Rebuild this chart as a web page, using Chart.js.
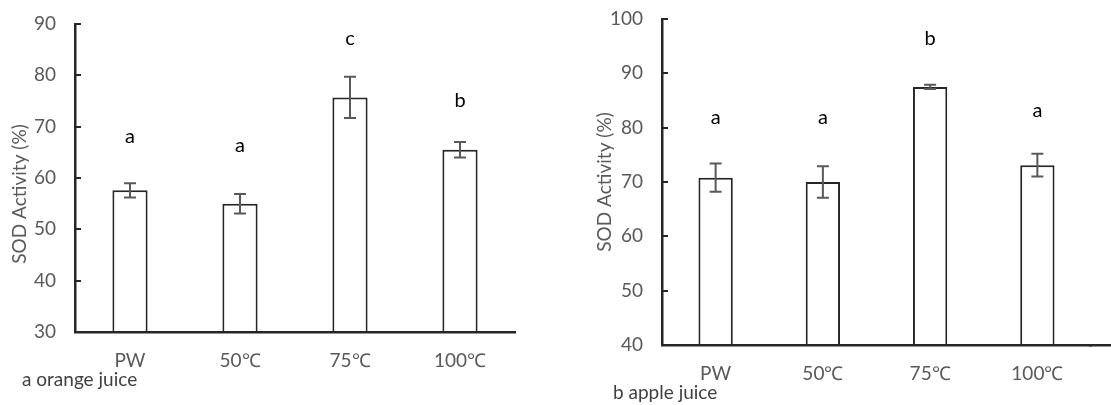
<!DOCTYPE html>
<html>
<head>
<meta charset="utf-8">
<script src="https://cdn.jsdelivr.net/npm/chart.js@4.4.1/dist/chart.umd.min.js"></script>
<style>
  html, body { margin: 0; padding: 0; background: #fff; }
  #wrap { position: relative; width: 1111px; height: 405px; overflow: hidden; }
  .box { position: absolute; top: 0; height: 405px; }
  #boxA { left: 0; width: 560px; }
  #boxB { left: 560px; width: 551px; }
</style>
</head>
<body>
<div id="wrap">
  <div class="box" id="boxA"><canvas id="chartA"></canvas></div>
  <div class="box" id="boxB"><canvas id="chartB"></canvas></div>
</div>
<script>
// SOD活性: 橙汁(a) と 苹果汁(b) の2枚の棒グラフ + 誤差棒 + 有意差の文字
var categories = ["PW", "50\u2103", "75\u2103", "100\u2103"];

var orangeMean   = [57.6, 55.0, 75.7, 65.5];
var orangeErr    = [1.4, 1.9, 4.0, 1.5];
var orangeLetter = ["a", "a", "c", "b"];
var orangeLetterY = [68.0, 66.3, 87.2, 75.0];

var appleMean   = [70.8, 70.0, 87.5, 73.1];
var appleErr    = [2.6, 2.9, 0.4, 2.1];
var appleLetter = ["a", "a", "b", "a"];
var appleLetterY = [81.9, 81.9, 96.4, 83.1];

(function () {
    "use strict";

    var INK = "#262626";
    var GREY = "#595959";
    var FONT = "Lato, 'Open Sans', sans-serif";
    Chart.defaults.font.family = FONT;

    // 誤差棒・文字・キャプション・縦軸タイトルを描くプラグイン
    var extras = {
        id: "extras",
        afterDatasetsDraw: function (chart) {
            var o = chart.options.plugins.extras;
            var ctx = chart.ctx;
            var y = chart.scales.y;
            var bars = chart.getDatasetMeta(0).data;
            ctx.save();
            // 誤差棒
            ctx.strokeStyle = GREY;
            ctx.lineWidth = 2;
            bars.forEach(function (b, i) {
                var m = o.mean[i], e = o.err[i];
                var y1 = y.getPixelForValue(m + e), y2 = y.getPixelForValue(m - e);
                ctx.beginPath();
                ctx.moveTo(b.x, y1); ctx.lineTo(b.x, y2);
                ctx.moveTo(b.x - 6, y1); ctx.lineTo(b.x + 6, y1);
                ctx.moveTo(b.x - 6, y2); ctx.lineTo(b.x + 6, y2);
                ctx.stroke();
            });
            // 有意差の文字
            ctx.fillStyle = "#000";
            ctx.font = "20px " + FONT;
            ctx.textAlign = "center";
            ctx.textBaseline = "middle";
            bars.forEach(function (b, i) {
                ctx.fillText(o.letters[i], b.x, y.getPixelForValue(o.letterY[i]));
            });
            ctx.restore();
        },
        afterDraw: function (chart) {
            var o = chart.options.plugins.extras;
            var ctx = chart.ctx;
            var x = chart.scales.x;
            ctx.save();
            // 横軸を右端まで延長 (b のみ)。Chart.js の枠線と同じ位置合わせ
            if (o.extendAxis) {
                var by = Math.round(x.top - 1.25) + 1.25;
                ctx.strokeStyle = INK;
                ctx.lineWidth = 2.5;
                ctx.beginPath();
                ctx.moveTo(chart.chartArea.right - 2, by);
                ctx.lineTo(chart.width, by);
                ctx.stroke();
            }
            // 縦軸タイトル
            ctx.fillStyle = GREY;
            ctx.font = "19px " + FONT;
            ctx.textAlign = "center";
            ctx.textBaseline = "middle";
            ctx.translate(o.titleX, o.titleY);
            ctx.rotate(-Math.PI / 2);
            ctx.fillText("SOD Activity (%)", 0, 0);
            ctx.setTransform(1, 0, 0, 1, 0, 0);
            // キャプション
            ctx.fillStyle = "#404040";
            ctx.textAlign = "left";
            ctx.fillText(o.caption, o.capX, o.capY);
            ctx.restore();
        },
    };

    function make(id, mean, err, letters, letterY, yMin, yMax, lay) {
        return new Chart(document.getElementById(id), {
            type: "bar",
            data: {
                labels: categories,
                datasets: [{
                    data: mean,
                    backgroundColor: "#fff",
                    borderColor: INK,
                    borderWidth: 2,
                    categoryPercentage: 1,
                    barPercentage: 0.32,
                    base: yMin,
                }],
            },
            options: {
                responsive: true,
                maintainAspectRatio: false,
                animation: false,
                events: [],
                layout: { padding: { left: 0, right: lay.padR, top: lay.padT, bottom: 0 } },
                scales: {
                    x: {
                        grid: { display: false, drawTicks: false },
                        border: { display: true, color: INK, width: 2.5 },
                        ticks: { color: GREY, font: { size: 19 }, padding: 17, maxRotation: 0 },
                        afterFit: function (s) {
                            s.height = lay.xH;
                            s.paddingLeft = 0; s.paddingRight = 0;
                        },
                    },
                    y: {
                        min: yMin, max: yMax,
                        grid: { display: true, drawOnChartArea: false, drawTicks: true,
                                tickLength: -6, color: INK, lineWidth: 2 },
                        border: { display: true, color: INK, width: 2.5 },
                        ticks: { stepSize: 10, color: GREY, font: { size: 19 }, padding: 25 },
                        // ticks.padding が上下余白に効かないよう固定
                        afterFit: function (s) {
                            s.width = lay.yW;
                            s.paddingTop = 0; s.paddingBottom = 0;
                        },
                    },
                },
                plugins: {
                    legend: { display: false },
                    tooltip: { enabled: false },
                    extras: {
                        mean: mean, err: err, letters: letters, letterY: letterY,
                        caption: lay.caption, capX: lay.capX, capY: lay.capY,
                        titleX: lay.titleX, titleY: lay.titleY, extendAxis: lay.extend,
                    },
                },
            },
            plugins: [extras],
        });
    }

    make("chartA", orangeMean, orangeErr, orangeLetter, orangeLetterY, 30, 90,
         { padR: 45, padT: 24, xH: 73, yW: 75, caption: "a orange juice",
           capX: 22, capY: 380, titleX: 20, titleY: 194, extend: false });
    make("chartB", appleMean, appleErr, appleLetter, appleLetterY, 40, 100,
         { padR: 20, padT: 19, xH: 60, yW: 102, caption: "b apple juice",
           capX: 53, capY: 393, titleX: 45, titleY: 182, extend: true });
})();
</script>
</body>
</html>
